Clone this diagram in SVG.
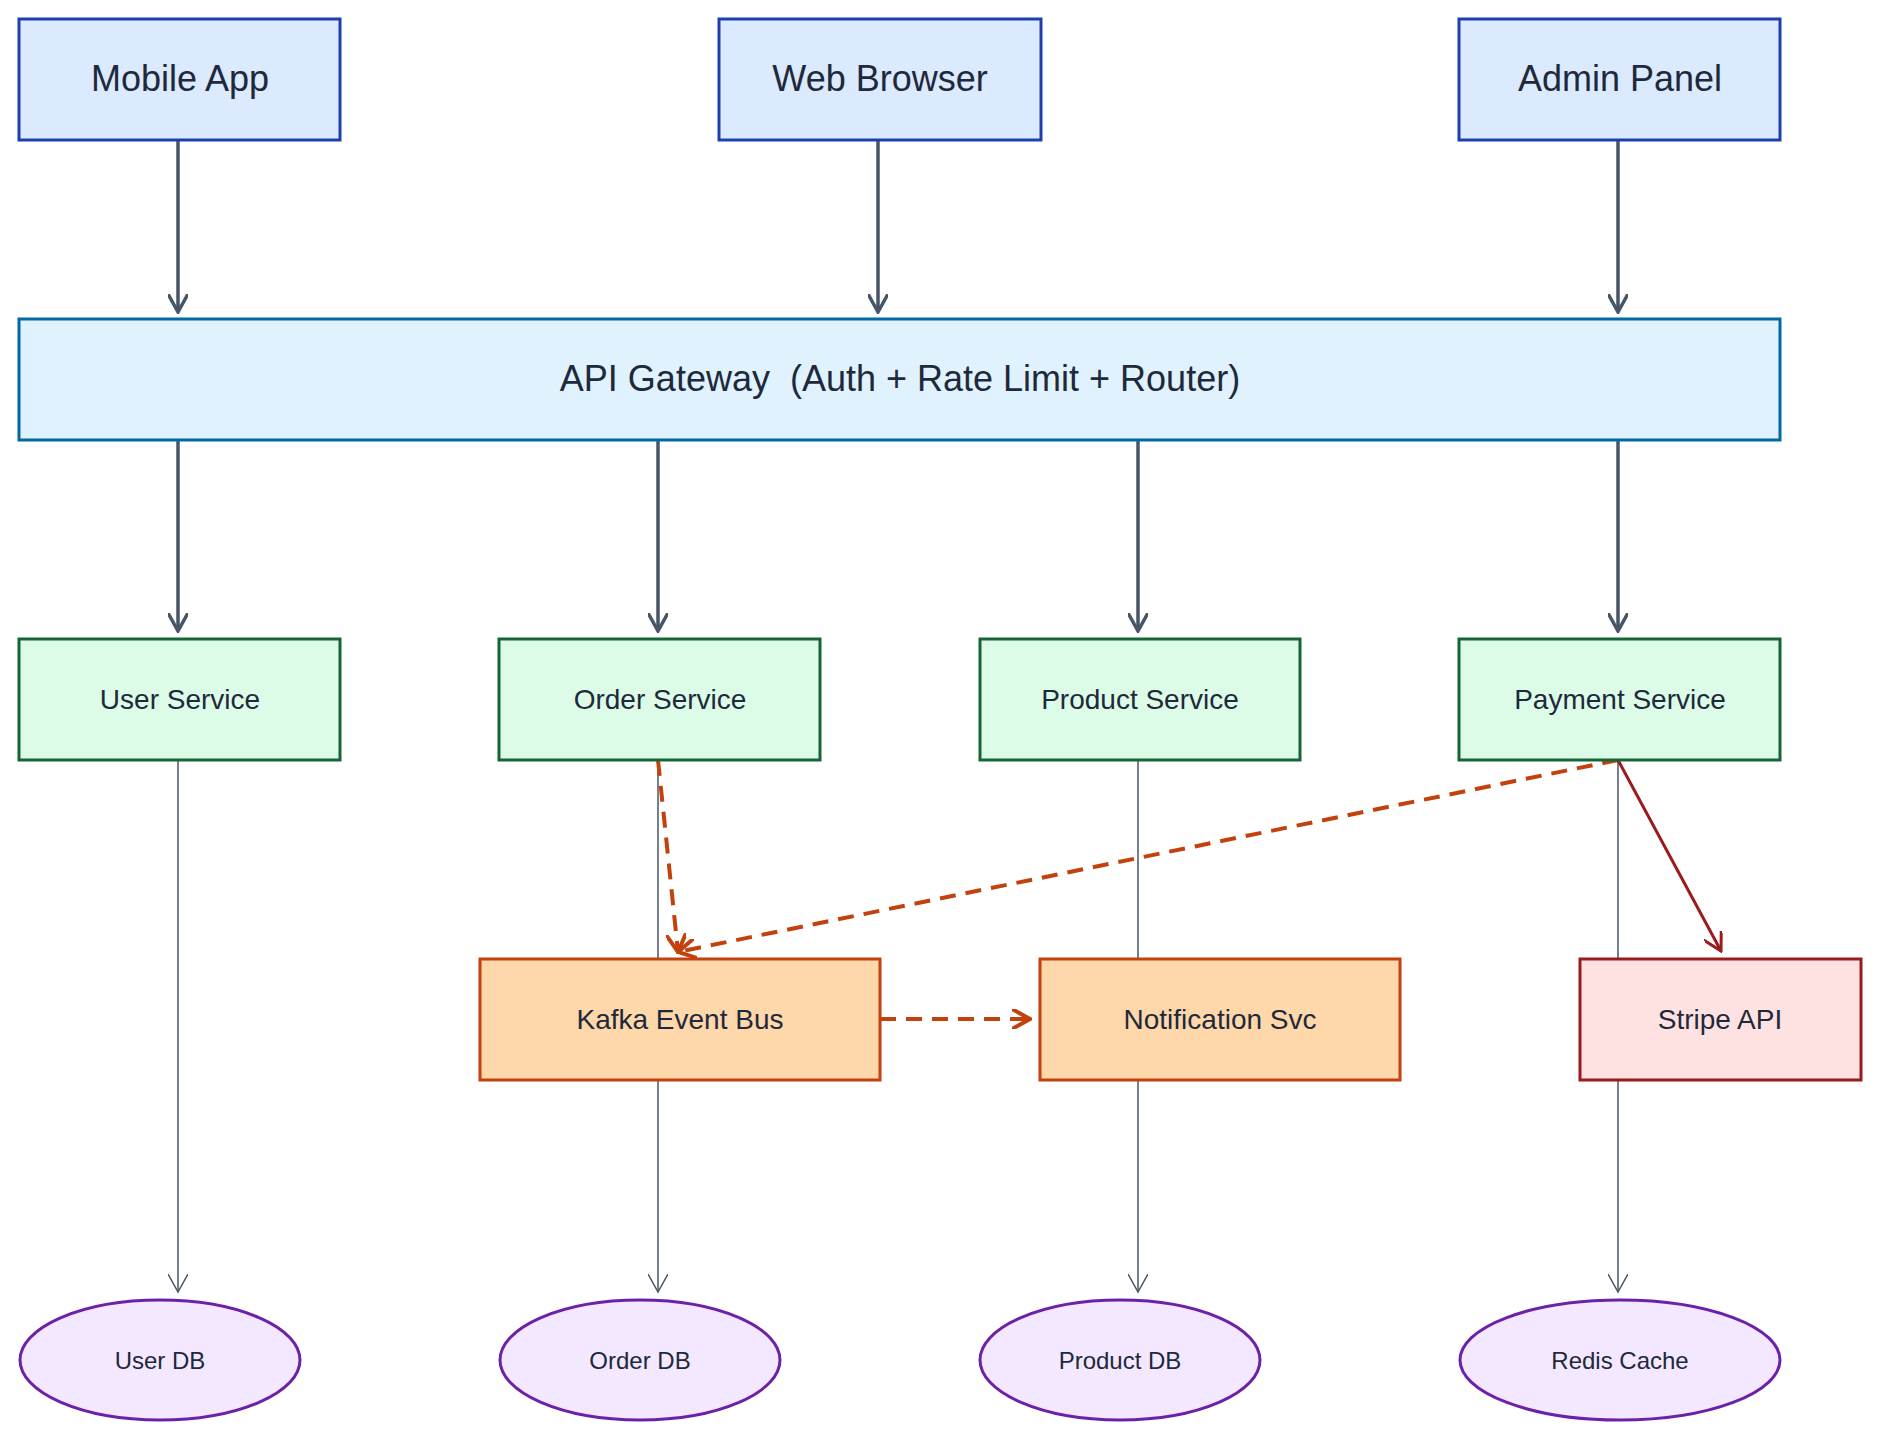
<svg xmlns="http://www.w3.org/2000/svg" width="1880" height="1440" viewBox="0 0 1880 1440">
<defs>
<style>
text{font-family:"Liberation Sans",Arial,sans-serif;fill:#1e293b;text-anchor:middle;dominant-baseline:central}
.cl rect{fill:#dbeafe;stroke:#1e40af;stroke-width:3}
.gw rect{fill:#e0f2fe;stroke:#0369a1;stroke-width:3}
.sv rect{fill:#dcfce7;stroke:#166534;stroke-width:3}
.ev rect{fill:#fed7aa;stroke:#c2410c;stroke-width:3}
.ex rect{fill:#fee2e2;stroke:#991b1b;stroke-width:3}
.db ellipse{fill:#f3e8ff;stroke:#6b21a8;stroke-width:3}
.big{font-size:36px}.mid{font-size:28px}.sm{font-size:24px}
.e1{stroke:#475569;stroke-width:3.5;fill:none}
.e2{stroke:#475569;stroke-width:1.5;fill:none}
.e3{stroke:#c2410c;stroke-width:4;fill:none;stroke-dasharray:16 10}
.e4{stroke:#991b1b;stroke-width:3;fill:none}
</style>
<marker id="a1" viewBox="0 0 20 20" refX="18" refY="10" markerWidth="20" markerHeight="20" markerUnits="userSpaceOnUse" orient="auto"><path d="M0,0 L18,10 L0,20" fill="none" stroke="#475569" stroke-width="3.5"/></marker>
<marker id="a2" viewBox="0 0 20 20" refX="18" refY="10" markerWidth="20" markerHeight="20" markerUnits="userSpaceOnUse" orient="auto"><path d="M0,0 L18,10 L0,20" fill="none" stroke="#475569" stroke-width="1.5"/></marker>
<marker id="a3" viewBox="0 0 20 20" refX="18" refY="10" markerWidth="20" markerHeight="20" markerUnits="userSpaceOnUse" orient="auto"><path d="M0,0 L18,10 L0,20" fill="none" stroke="#c2410c" stroke-width="4"/></marker>
<marker id="a4" viewBox="0 0 20 20" refX="18" refY="10" markerWidth="20" markerHeight="20" markerUnits="userSpaceOnUse" orient="auto"><path d="M0,0 L18,10 L0,20" fill="none" stroke="#991b1b" stroke-width="3"/></marker>
</defs>
<rect width="1880" height="1440" fill="#ffffff"/>
<g id="connectors">
<path class="e1" marker-end="url(#a1)" d="M178,140 V312"/>
<path class="e1" marker-end="url(#a1)" d="M878,140 V312"/>
<path class="e1" marker-end="url(#a1)" d="M1618,140 V312"/>
<path class="e1" marker-end="url(#a1)" d="M178,440 V631"/>
<path class="e1" marker-end="url(#a1)" d="M658,440 V631"/>
<path class="e1" marker-end="url(#a1)" d="M1138,440 V631"/>
<path class="e1" marker-end="url(#a1)" d="M1618,440 V631"/>
<path class="e2" marker-end="url(#a2)" d="M178,760 V1292"/>
<path class="e2" marker-end="url(#a2)" d="M658,760 V1292"/>
<path class="e2" marker-end="url(#a2)" d="M1138,760 V1292"/>
<path class="e2" marker-end="url(#a2)" d="M1618,760 V1292"/>
<path class="e3" marker-end="url(#a3)" d="M658,760 L678,952"/>
<path class="e3" marker-end="url(#a3)" d="M1618,760 L678,952"/>
<path class="e3" marker-end="url(#a3)" d="M880,1019 L1030,1019"/>
<path class="e4" marker-end="url(#a4)" d="M1618,760 L1721,951"/>
</g>
<g id="mobile" class="cl"><rect x="19" y="19" width="321" height="121"/><text class="big" x="180" y="78">Mobile App</text></g>
<g id="web" class="cl"><rect x="719" y="19" width="322" height="121"/><text class="big" x="880" y="78">Web Browser</text></g>
<g id="admin" class="cl"><rect x="1459" y="19" width="321" height="121"/><text class="big" x="1620" y="78">Admin Panel</text></g>
<g id="gateway" class="gw"><rect x="19" y="319" width="1761" height="121"/><text class="big" x="900" y="378" xml:space="preserve">API Gateway  (Auth + Rate Limit + Router)</text></g>
<g id="user" class="sv"><rect x="19" y="639" width="321" height="121"/><text class="mid" x="180" y="699">User Service</text></g>
<g id="order" class="sv"><rect x="499" y="639" width="321" height="121"/><text class="mid" x="660" y="699">Order Service</text></g>
<g id="product" class="sv"><rect x="980" y="639" width="320" height="121"/><text class="mid" x="1140" y="699">Product Service</text></g>
<g id="payment" class="sv"><rect x="1459" y="639" width="321" height="121"/><text class="mid" x="1620" y="699">Payment Service</text></g>
<g id="kafka" class="ev"><rect x="480" y="959" width="400" height="121"/><text class="mid" x="680" y="1019">Kafka Event Bus</text></g>
<g id="notif" class="ev"><rect x="1040" y="959" width="360" height="121"/><text class="mid" x="1220" y="1019">Notification Svc</text></g>
<g id="stripe" class="ex"><rect x="1580" y="959" width="281" height="121"/><text class="mid" x="1720" y="1019">Stripe API</text></g>
<g id="userdb" class="db"><ellipse cx="160" cy="1360" rx="140" ry="60"/><text class="sm" x="160" y="1360">User DB</text></g>
<g id="orderdb" class="db"><ellipse cx="640" cy="1360" rx="140" ry="60"/><text class="sm" x="640" y="1360">Order DB</text></g>
<g id="productdb" class="db"><ellipse cx="1120" cy="1360" rx="140" ry="60"/><text class="sm" x="1120" y="1360">Product DB</text></g>
<g id="redis" class="db"><ellipse cx="1620" cy="1360" rx="160" ry="60"/><text class="sm" x="1620" y="1360">Redis Cache</text></g>
</svg>
